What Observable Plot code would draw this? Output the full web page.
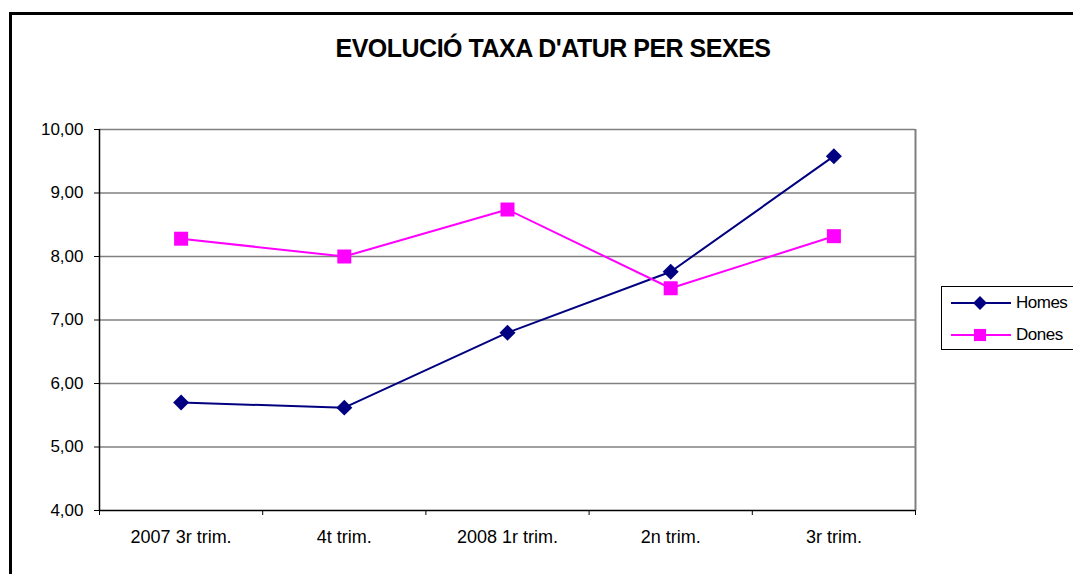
<!DOCTYPE html>
<html><head><meta charset="utf-8">
<script src="https://cdn.jsdelivr.net/npm/d3@7"></script>
<script src="https://cdn.jsdelivr.net/npm/@observablehq/plot@0.6"></script>
<style>
body{margin:0;background:#fff;overflow:hidden}
#wrap{position:relative;width:1073px;height:574px;overflow:hidden;font-family:"Liberation Sans",Arial,sans-serif;color:#000}
#frame{position:absolute;left:9px;top:12px;width:1120px;height:620px;border:3px solid #000;box-sizing:border-box;pointer-events:none}
#title{position:absolute;left:0;width:1106px;top:36px;text-align:center;white-space:nowrap;font-weight:bold;font-size:25px;line-height:1;letter-spacing:-0.5px}
#chart{position:absolute;left:0;top:0}
#legend{position:absolute;left:941px;top:286px;width:160px;height:64px;border:1px solid #000;box-sizing:border-box;background:#fff}
.item{position:absolute;left:8px;height:20px;display:flex;align-items:center;font-size:17px;letter-spacing:-0.5px}
.item svg{margin-right:4px}
</style></head>
<body>
<div id="wrap">
  <div id="chart"></div>
  <div id="frame"></div>
  <div id="title">EVOLUCIÓ TAXA D'ATUR PER SEXES</div>
  <div id="legend"></div>
</div>
<script>
const quarters = ["2007 3r trim.", "4t trim.", "2008 1r trim.", "2n trim.", "3r trim."];
const homes = [5.70, 5.62, 6.80, 7.76, 9.58];
const dones = [8.28, 8.00, 8.74, 7.50, 8.32];
const yTicks = [4, 5, 6, 7, 8, 9, 10];
const seriesNames = ["Homes", "Dones"];
const seriesColors = ["#000080", "#ff00ff"];
const seriesSymbols = ["diamond2", "square"];

const seriesValues = [homes, dones];
const data = seriesNames.flatMap((name, k) => seriesValues[k].map((v, i) => ({serie: name, i, v})));
const idx = d3.range(quarters.length);
const xDomain = [-0.5, quarters.length - 0.5];
const yDomain = [yTicks[0], yTicks[yTicks.length - 1]];
const fmt = d => d3.format(".2f")(d).replace(".", ",");

const chart = Plot.plot({
  width: 1073, height: 574,
  marginLeft: 99, marginRight: 158, marginTop: 129, marginBottom: 64,
  style: {fontFamily: '"Liberation Sans", Arial, sans-serif', fontSize: "17px", color: "#000", background: "transparent"},
  x: {type: "linear", domain: xDomain, axis: null},
  y: {domain: yDomain, axis: null},
  color: {domain: seriesNames, range: seriesColors},
  symbol: {domain: seriesNames, range: seriesSymbols},
  marks: [
    Plot.ruleY(yTicks.slice(1), {stroke: "#808080", strokeWidth: 1.5, strokeOpacity: 1}),
    Plot.ruleX([xDomain[1]], {stroke: "#808080", strokeWidth: 2, strokeOpacity: 1}),
    Plot.ruleX([xDomain[0]], {stroke: "#000", strokeWidth: 1.5, strokeOpacity: 1}),
    Plot.ruleY([yDomain[0]], {stroke: "#000", strokeWidth: 1.5, strokeOpacity: 1}),
    Plot.axisY({ticks: yTicks, label: null, tickSize: 5, tickPadding: 11, tickFormat: fmt, stroke: "#000", strokeOpacity: 1, fill: "#000", fontSize: 17}),
    Plot.axisX({ticks: d3.range(-0.5, quarters.length, 1), label: null, tickSize: 5, tickFormat: () => "", stroke: "#000", strokeOpacity: 1}),
    Plot.axisX({ticks: idx, label: null, tickSize: 0, tickPadding: 20, tickFormat: i => quarters[i], fill: "#000", fontSize: 18}),
    Plot.line(data, {x: "i", y: "v", z: "serie", stroke: "serie", strokeWidth: 2}),
    Plot.dot(data.filter(d => d.serie === "Homes"), {x: "i", y: "v", symbol: "serie", fill: "serie", stroke: "none", r: 7.2}),
    Plot.dot(data.filter(d => d.serie === "Dones"), {x: "i", y: "v", symbol: "serie", fill: "serie", stroke: "none", r: 7.9})
  ]
});
document.getElementById("chart").append(chart);

// legend
const legend = d3.select("#legend");
const symSizes = [163, 196];
const symTypes = [d3.symbolDiamond2, d3.symbolSquare];
seriesNames.forEach((name, k) => {
  const item = legend.append("div").attr("class", "item").style("top", (6 + k * 32) + "px");
  const svg = item.append("svg").attr("width", 62).attr("height", 20);
  svg.append("line").attr("x1", 1).attr("x2", 61).attr("y1", 10).attr("y2", 10)
    .attr("stroke", seriesColors[k]).attr("stroke-width", 2);
  svg.append("path").attr("transform", "translate(30,10)")
    .attr("d", d3.symbol(symTypes[k], symSizes[k] * 0.75)()).attr("fill", seriesColors[k]);
  item.append("span").text(name);
});
</script>
</body></html>
